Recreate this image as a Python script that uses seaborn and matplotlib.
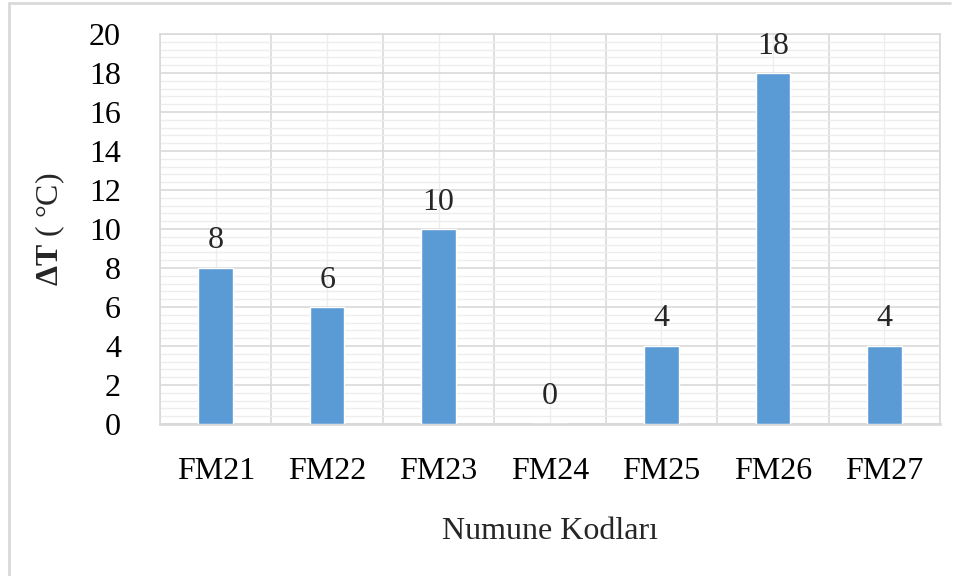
import matplotlib
matplotlib.use('Agg')
import numpy as np
import pandas as pd
import matplotlib.pyplot as plt
from matplotlib.ticker import MultipleLocator, FixedLocator
from matplotlib.lines import Line2D
import seaborn as sns

sns.set_theme(style='white')
plt.rcParams['font.family'] = ['Liberation Serif', 'DejaVu Serif']
plt.rcParams['mathtext.fontset'] = 'custom'
plt.rcParams['mathtext.rm'] = 'Liberation Serif'
plt.rcParams['mathtext.bf'] = 'Liberation Serif:bold'

# Data
samples = ['FM21', 'FM22', 'FM23', 'FM24', 'FM25', 'FM26', 'FM27']
delta_t = [8, 6, 10, 0, 4, 18, 4]

df = pd.DataFrame({'sample': samples, 'dT': delta_t})

fs = 23

fig = plt.figure(figsize=(9.61, 5.76), dpi=100)
ax = fig.add_axes([160 / 961, 1 - 424 / 576, 780 / 961, 390 / 576])

sns.barplot(data=df, x='sample', y='dT', color='#5B9BD5', width=0.31,
            saturation=1, ax=ax, zorder=3)

ax.set_ylim(0, 20)
ax.set_xlim(-0.5, len(samples) - 0.5)
ax.yaxis.set_major_locator(MultipleLocator(2))
ax.yaxis.set_minor_locator(MultipleLocator(0.4))
ax.xaxis.set_minor_locator(FixedLocator(np.arange(-0.5, len(samples), 1.0)))

ax.set_axisbelow(True)
ax.yaxis.grid(True, which='major', color='#d9d9d9', lw=1.2)
ax.yaxis.grid(True, which='minor', color='#ededed', lw=1.0)
ax.xaxis.grid(True, which='minor', color='#d9d9d9', lw=1.2)
ax.xaxis.grid(True, which='major', color='#ededed', lw=1.0)

for s in ax.spines.values():
    s.set_color('#d9d9d9')
    s.set_linewidth(1.2)
ax.spines['bottom'].set_linewidth(2)

ax.tick_params(axis='both', which='both', length=0, labelsize=fs, colors='black')
ax.tick_params(axis='y', pad=28)
ax.tick_params(axis='x', pad=24)

ax.set_xlabel('Numune Kodları', fontsize=fs, labelpad=22)
ax.set_ylabel(r'$\mathbf{\Delta T}$ ( °C)', fontsize=fs, labelpad=16)

for i, v in enumerate(delta_t):
    ax.annotate(str(v), (i, v), xytext=(0, 9), textcoords='offset points',
                ha='center', va='bottom', fontsize=fs)

# outer frame of the chart area
fig.add_artist(Line2D([9 / 961, 9 / 961], [0, 1 - 3 / 576], transform=fig.transFigure,
                      color='#d9d9d9', lw=2))
fig.add_artist(Line2D([9 / 961, 950 / 961], [1 - 3 / 576, 1 - 3 / 576],
                      transform=fig.transFigure, color='#d9d9d9', lw=2))

fig.savefig('out.png', dpi=100)
